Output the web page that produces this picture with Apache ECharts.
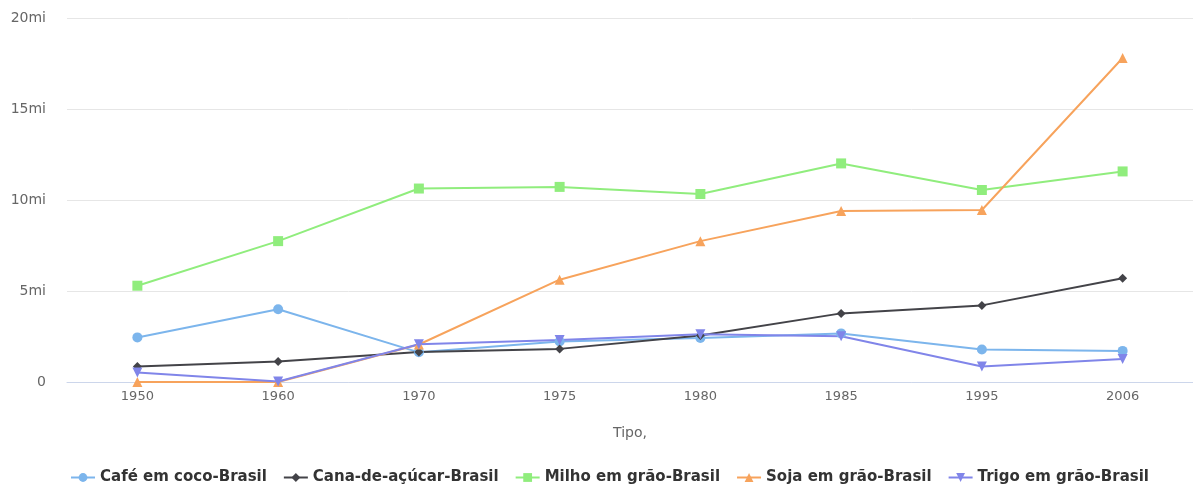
<!DOCTYPE html>
<html>
<head>
<meta charset="utf-8">
<script src="https://cdn.jsdelivr.net/npm/echarts@6/dist/echarts.min.js"></script>
<style>
  html, body { margin: 0; padding: 0; background: #fff; }
  #chart { width: 1193px; height: 486px; }
</style>
</head>
<body>
<div id="chart"></div>
<script>
// categories (years)
const years = ['1950', '1960', '1970', '1975', '1980', '1985', '1995', '2006']

// values in millions
const cafe = [2.45, 4.0, 1.63, 2.23, 2.42, 2.67, 1.79, 1.71]
const cana = [0.85, 1.13, 1.65, 1.82, 2.56, 3.77, 4.21, 5.70]
const milho = [5.29, 7.74, 10.63, 10.72, 10.33, 12.01, 10.55, 11.57]
const soja = [0.0, 0.0, 2.06, 5.62, 7.74, 9.39, 9.45, 17.80]
const trigo = [0.52, 0.03, 2.07, 2.31, 2.62, 2.51, 0.85, 1.27]

const seriesNames = [
  'Café em coco-Brasil',
  'Cana-de-açúcar-Brasil',
  'Milho em grão-Brasil',
  'Soja em grão-Brasil',
  'Trigo em grão-Brasil'
]
const yTicks = [0, 5, 10, 15, 20]

const colors = ['#7cb5ec', '#434348', '#90ed7d', '#f7a35c', '#8085e9']
const symbols = ['circle', 'diamond', 'rect', 'triangle', 'path://M0,0 L10,0 L5,10 Z']
const symbolSizes = [10, 9, 10, 10, 10]
const allData = [cafe, cana, milho, soja, trigo]

const chart = echarts.init(document.getElementById('chart'))

chart.setOption({
  animation: false,
  color: colors,
  textStyle: { fontFamily: 'DejaVu Sans' },
  grid: { left: 67, right: 0, top: 18, bottom: 104, containLabel: false },
  legend: {
    top: 465,
    left: 65,
    itemGap: 16,
    itemWidth: 24,
    itemHeight: 11,
    textStyle: { color: '#333', fontSize: 15, fontWeight: 'bold', fontFamily: 'DejaVu Sans' },
    data: seriesNames
  },
  xAxis: {
    type: 'category',
    data: years,
    boundaryGap: true,
    name: 'Tipo,',
    nameLocation: 'middle',
    nameGap: 44,
    nameTextStyle: { color: '#666', fontSize: 14 },
    axisLine: { lineStyle: { color: '#ccd6eb' } },
    axisTick: { length: 10, lineStyle: { color: '#ccd6eb' } },
    axisLabel: { color: '#666', fontSize: 13, margin: 8 }
  },
  yAxis: {
    type: 'value',
    min: yTicks[0],
    max: yTicks[yTicks.length - 1],
    interval: 5,
    axisLine: { show: false },
    axisTick: { show: false },
    splitLine: { lineStyle: { color: '#e6e6e6' } },
    axisLabel: {
      color: '#666',
      fontSize: 14,
      margin: 21,
      formatter: v => (v === 0 ? '0' : v + 'mi')
    }
  },
  series: seriesNames.map((name, i) => ({
    name,
    type: 'line',
    data: allData[i],
    symbol: symbols[i],
    symbolSize: symbolSizes[i],
    showAllSymbol: true,
    lineStyle: { width: 2, color: colors[i] },
    itemStyle: { color: colors[i] }
  }))
})

window.addEventListener('resize', () => chart.resize())
</script>
</body>
</html>
